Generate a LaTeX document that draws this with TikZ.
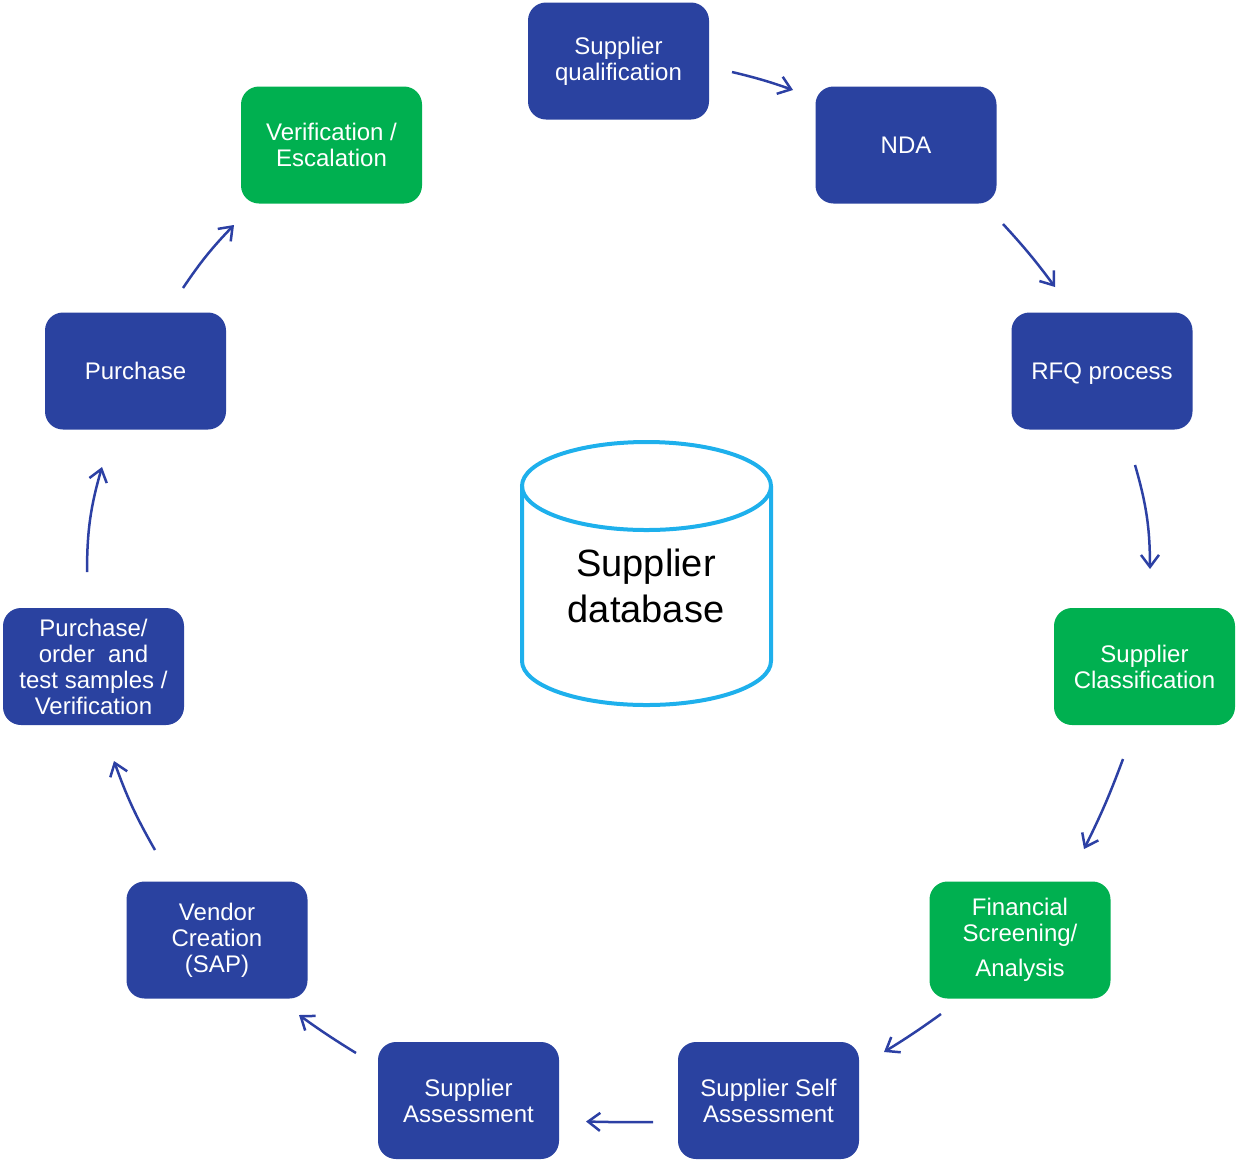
\documentclass[tikz,border=0pt]{standalone}
\usepackage{fontspec}
\setmainfont{Liberation Sans}
\usetikzlibrary{arrows.meta}
\definecolor{boxblue}{RGB}{42,66,160}
\definecolor{boxgreen}{RGB}{0,176,80}
\definecolor{arrowblue}{RGB}{44,64,164}
\definecolor{dbcyan}{RGB}{30,176,236}
\begin{document}
\begin{tikzpicture}[x=1pt,y=-1pt,
  procbox/.style={rounded corners=18pt, minimum width=181pt, minimum height=117pt,
    inner sep=0pt, text=white, align=center, font=\fontsize{24}{26}\selectfont},
  bluebox/.style={procbox, fill=boxblue},
  greenbox/.style={procbox, fill=boxgreen},
  flow/.style={draw=arrowblue, line width=2.5pt, -{Straight Barb[length=12pt,width=18pt]}},
  outbend/.style={bend left=#1}]
\useasboundingbox (0,0) rectangle (1238,1160);

% process boxes
\node[bluebox]  (sq)  at (618.5,61)    {Supplier\\qualification};
\node[bluebox]  (nda) at (906,145)     {NDA};
\node[bluebox, text depth=0pt]  (rfq) at (1102,371)    {RFQ process};
\node[greenbox] (cls) at (1144.5,666.5) {Supplier\\Classification};
\node[greenbox] (fin) at (1020,940)    {Financial\\Screening/\\[9pt]Analysis};
\node[bluebox]  (ssa) at (768.5,1100.5) {Supplier Self\\Assessment};
\node[bluebox]  (sa)  at (468.5,1100.5) {Supplier\\Assessment};
\node[bluebox]  (vc)  at (217,940)     {Vendor\\Creation\\(SAP)};
\node[bluebox]  (pot) at (93.5,666.5)  {Purchase/\\order~~and\\test samples /\\Verification};
\node[bluebox]  (pur) at (135.5,371)   {Purchase};
\node[greenbox] (ver) at (331.5,145)   {Verification /\\Escalation};

% database cylinder
\path[fill=white, draw=dbcyan, line width=4pt]
  (522,486) -- (522,661) arc[start angle=180, end angle=0, x radius=124.5, y radius=44]
  -- (771,486);
\draw[dbcyan, line width=4pt] (646.5,486) ellipse[x radius=124.5, y radius=44];
\node[align=center, font=\fontsize{38}{46}\selectfont] (db) at (646,586) {Supplier\\database};

% arrow end points
\coordinate (a1s) at (732,72);   \coordinate (a1e) at (793,90);
\coordinate (a2s) at (1003,224); \coordinate (a2e) at (1055,287);
\coordinate (a3s) at (1135,465); \coordinate (a3e) at (1150,569);
\coordinate (a4s) at (1123,759); \coordinate (a4e) at (1084,849);
\coordinate (a5s) at (941,1014); \coordinate (a5e) at (884,1052);
\coordinate (a6s) at (653,1122); \coordinate (a6e) at (586,1121.5);
\coordinate (a7s) at (356,1053); \coordinate (a7e) at (299,1015);
\coordinate (a8s) at (155,850);  \coordinate (a8e) at (114,761);
\coordinate (a9s) at (87,572);   \coordinate (a9e) at (102,467);
\coordinate (a10s) at (183,288); \coordinate (a10e) at (234,225);

\draw[flow] (a1s) to[outbend=3] (a1e);
\draw[flow] (a2s) to[outbend=3] (a2e);
\draw[flow] (a3s) to[outbend=8] (a3e);
\draw[flow] (a4s) to[outbend=3] (a4e);
\draw[flow] (a5s) to[outbend=2] (a5e);
\draw[flow] (a6s) to[outbend=1] (a6e);
\draw[flow] (a7s) to[outbend=2] (a7e);
\draw[flow] (a8s) to[outbend=5] (a8e);
\draw[flow] (a9s) to[outbend=8] (a9e);
\draw[flow] (a10s) to[outbend=5] (a10e);
\end{tikzpicture}
\end{document}
